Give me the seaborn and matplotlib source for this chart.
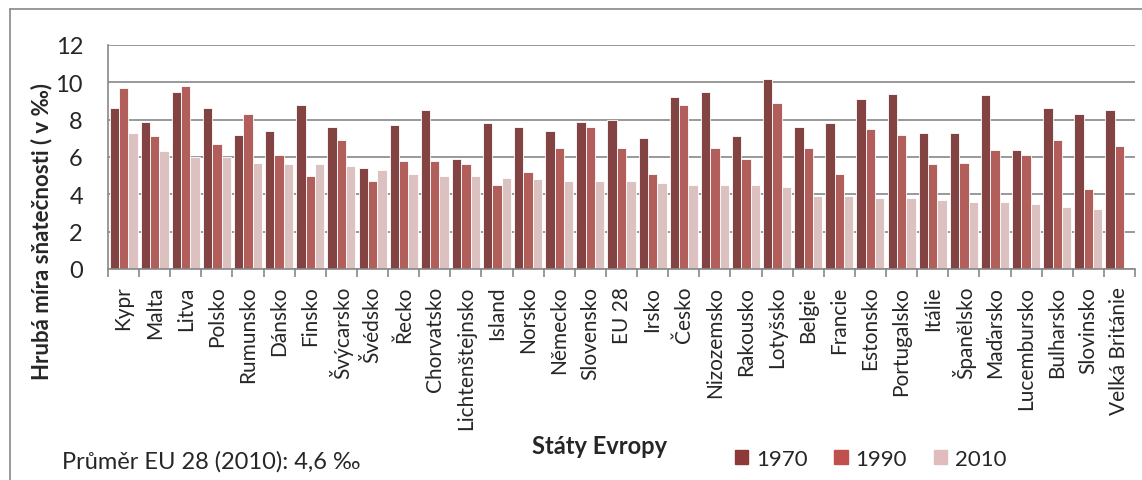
import pandas as pd
import numpy as np
import matplotlib
matplotlib.use("Agg")
import matplotlib.pyplot as plt
import seaborn as sns
from matplotlib.lines import Line2D
from matplotlib.ticker import FixedLocator

# values (crude marriage rate, per mille)
countries = ["Kypr", "Malta", "Litva", "Polsko", "Rumunsko", "Dánsko", "Finsko",
             "Švýcarsko", "Švédsko", "Řecko", "Chorvatsko", "Lichtenštejnsko",
             "Island", "Norsko", "Německo", "Slovensko", "EU 28", "Irsko", "Česko",
             "Nizozemsko", "Rakousko", "Lotyšsko", "Belgie", "Francie", "Estonsko",
             "Portugalsko", "Itálie", "Španělsko", "Maďarsko", "Lucembursko",
             "Bulharsko", "Slovinsko", "Velká Británie"]
v1970 = [8.6, 7.9, 9.5, 8.6, 7.2, 7.4, 8.8, 7.6, 5.4, 7.7, 8.5, 5.9, 7.8, 7.6, 7.4, 7.9,
         8.0, 7.0, 9.2, 9.5, 7.1, 10.2, 7.6, 7.8, 9.1, 9.4, 7.3, 7.3, 9.3, 6.4, 8.6, 8.3, 8.5]
v1990 = [9.7, 7.1, 9.8, 6.7, 8.3, 6.1, 5.0, 6.9, 4.7, 5.8, 5.8, 5.6, 4.5, 5.2, 6.5, 7.6,
         6.5, 5.1, 8.8, 6.5, 5.9, 8.9, 6.5, 5.1, 7.5, 7.2, 5.6, 5.7, 6.4, 6.1, 6.9, 4.3, 6.6]
v2010 = [7.3, 6.3, 6.0, 6.0, 5.7, 5.6, 5.6, 5.5, 5.3, 5.1, 5.0, 5.0, 4.9, 4.8, 4.7, 4.7,
         4.7, 4.6, 4.5, 4.5, 4.5, 4.4, 3.9, 3.9, 3.8, 3.8, 3.7, 3.6, 3.6, 3.5, 3.3, 3.2, np.nan]
years = ["1970", "1990", "2010"]
colors = ["#8E3937", "#C0504D", "#E0BCBC"]

df = pd.DataFrame({"country": countries * 3,
                   "year": [y for y in years for _ in countries],
                   "rate": v1970 + v1990 + v2010})

sns.set_style("white")
plt.rcParams["font.family"] = ["Lato", "DejaVu Sans"]

fig = plt.figure(figsize=(11.42, 4.81), dpi=100)
ax = fig.add_axes([108 / 1142, 1 - 270 / 481, 1027 / 1142, 224 / 481])

sns.barplot(data=df, x="country", y="rate", hue="year", palette=colors,
            width=0.9, gap=0, edgecolor="white", linewidth=0.6, ax=ax, legend=False)

ax.set_ylim(0, 12)
ax.set_xlim(-0.5, len(countries) - 0.5)
ax.set_yticks(range(0, 13, 2))
ax.yaxis.grid(True, color="#878787", linewidth=1.2)
ax.set_axisbelow(True)
for s in ["top", "right"]:
    ax.spines[s].set_visible(False)
for s in ["left", "bottom"]:
    ax.spines[s].set_color("#878787")
    ax.spines[s].set_linewidth(1.2)

ax.set_xlabel("")
ax.set_ylabel("")
ax.tick_params(axis="y", length=6, width=1.2, color="#878787", pad=12, labelsize=17)
ax.tick_params(axis="x", which="major", length=0, pad=12, labelsize=15, rotation=90)
ax.xaxis.set_minor_locator(FixedLocator(np.arange(-0.5, len(countries), 1.0)))
ax.tick_params(axis="x", which="minor", length=6, width=1.2, color="#878787", bottom=True)

fig.text(42 / 1142, 1 - 232 / 481, "Hrubá míra sňatečnosti ( v ‰)", rotation=90,
         ha="center", va="center", fontsize=16, fontweight="bold")
fig.text(600 / 1142, 1 - 447 / 481, "Státy Evropy", ha="center", va="center",
         fontsize=17, fontweight="bold")
fig.text(62 / 1142, 1 - 462 / 481, "Průměr EU 28 (2010): 4,6 ‰", ha="left", va="center",
         fontsize=17)

handles = [plt.Rectangle((0, 0), 1, 1, color=c) for c in colors]
fig.legend(handles, years, ncol=3, frameon=False, fontsize=16,
           loc="center left", bbox_to_anchor=(735 / 1142, 1 - 460 / 481),
           borderaxespad=0, borderpad=0,
           handlelength=0.6, handleheight=0.6, handletextpad=0.35, columnspacing=1.2)

# outer frame of the chart
fig.add_artist(Line2D([10 / 1142, 10 / 1142], [0, 1 - 10 / 481], color="#878787", lw=1.2,
                      transform=fig.transFigure))
fig.add_artist(Line2D([10 / 1142, 1], [1 - 10 / 481, 1 - 10 / 481], color="#878787", lw=1.2,
                      transform=fig.transFigure))

fig.savefig("out.png", dpi=100)
